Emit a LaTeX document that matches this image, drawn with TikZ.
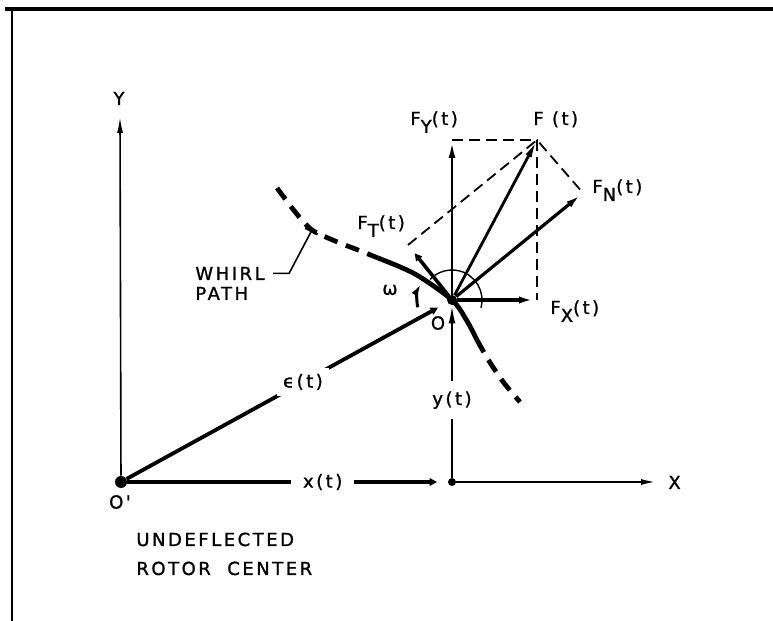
\documentclass[tikz,border=0pt]{standalone}
\usepackage{fontspec}
\newfontfamily\lettering{DejaVu Sans}[LetterSpace=14, FakeBold=1.2]
\usepackage{tikz}
\usetikzlibrary{arrows.meta,positioning}

\newcommand{\lowsub}[1]{\raisebox{-4pt}{#1}}

\begin{document}
\begin{tikzpicture}[
    x=0.5pt, y=0.5pt,
    font=\lettering\fontsize{9}{10}\selectfont,
    lbl/.style={inner sep=0pt},
    gaplbl/.style={fill=white, inner sep=3pt},
    bigdot/.style={circle, fill, inner sep=0pt, minimum size=6pt},
    smalldot/.style={circle, fill, inner sep=0pt, minimum size=4pt},
    axis/.style={-{Latex[length=8pt, width=3pt]}, line width=0.8pt},
    vec/.style={-{Latex[length=9pt, width=3.4pt]}, line width=1.4pt},
    guide/.style={dash pattern=on 5.5pt off 3pt, line width=0.9pt},
    whirl/.style={line width=2.4pt},
    whirldash/.style={line width=2.4pt, dash pattern=on 7pt off 4.5pt},
    leader/.style={-{Bar[width=7pt, line width=1.2pt]}, line width=0.8pt}
]
\useasboundingbox (0,0) rectangle (773,621);
% frame
\draw[line width=2pt] (5,612) -- (773,612);
\draw[line width=0.7pt] (12,612) -- (12,0);

% centres and vector tips
\node[bigdot] (Op) at (121,139) {};
\node[smalldot] (P) at (452,139) {};
\node[bigdot, minimum size=5pt] (O) at (452,321) {};
\coordinate (Ytip) at (120,504);
\coordinate (Xtip) at (657,139);
\coordinate (FY) at (452,481);
\coordinate (F) at (537,481);
\coordinate (FX) at (537,321);
\coordinate (FN) at (583,428);
\coordinate (FT) at (408,376);
\coordinate (wp) at (312,391);

% axes and position
\draw[axis] (Op) -- (Ytip);
\draw[vec, line width=1.9pt] (Op) -- node[gaplbl, inner xsep=6pt, pos=0.61] (xt) {x(t)} (P);
\draw[axis, line width=1.1pt] (P) -- (Xtip);
\draw[vec, line width=1pt] (P) -- node[gaplbl, inner ysep=5pt, pos=0.45] (yt) {y(t)} (O);
\draw[vec, line width=1.9pt] (Op) -- node[gaplbl, pos=0.55] (et) {ϵ(t)} (O);

% forces
\draw[guide] (FY) -- (F) -- (FX);
\draw[guide] (FT) -- (F) -- (FN);
\draw[vec] (O) -- (FY);
\draw[vec] (O) -- (F);
\draw[vec, line width=1.6pt] (O) -- (FN);
\draw[vec, line width=1.8pt] (O) -- (FT);
\draw[vec, line width=1.6pt] (O) -- (FX);

% whirl angle
\draw[line width=0.7pt] (O) ++(-15:30) arc[start angle=-15, end angle=137, radius=30];
\draw[-{Latex[length=7pt, width=3.4pt]}, line width=1.5pt] (O) ++(192:35) arc[start angle=192, end angle=150, radius=35];

% whirl path
\draw[whirldash] plot[smooth] coordinates {(277,433) (296,408) (312,391) (335,380) (358,371) (378,363)};
\draw[whirl] plot[smooth] coordinates {(378,363) (415,347) (452,321) (467,300) (477,281)};
\draw[whirldash] plot[smooth] coordinates {(477,281) (489,260) (504,238) (520,219)};

% labels
\node[lbl, anchor=base] (Ylbl) at (119,516) {Y};
\node[lbl, anchor=base west] (Xlbl) at (668,132) {X};
\node[lbl, anchor=base west] (FYlbl) at (410,496) {F\lowsub{Y}(t)};
\node[lbl, anchor=base west] (Flbl) at (533,496) {F (t)};
\node[lbl, anchor=base west] (FNlbl) at (592,428) {F\lowsub{N}(t)};
\node[lbl, anchor=base west] (FTlbl) at (357,392) {F\lowsub{T}(t)};
\node[lbl, anchor=base west] (FXlbl) at (550,307) {F\lowsub{X}(t)};
\node[lbl] (wlbl) at (390,331) {ω};
\node[lbl] (Olbl) at (438,298) {O};
\node[lbl] (Oplbl) at (120,119) {O'};
\node[lbl, anchor=base west] (whirl) at (195,341) {WHIRL};
\node[lbl, anchor=base west] (path) at (195,321) {PATH};
\node[lbl, anchor=base west] (undefl) at (136,75) {UNDEFLECTED};
\node[lbl, anchor=base west] (rotor) at (136,46) {ROTOR\ \ CENTER};
\draw[leader, shorten <=4pt] (whirl.east) -- ++(24,0) -- (wp);
\end{tikzpicture}
\end{document}
